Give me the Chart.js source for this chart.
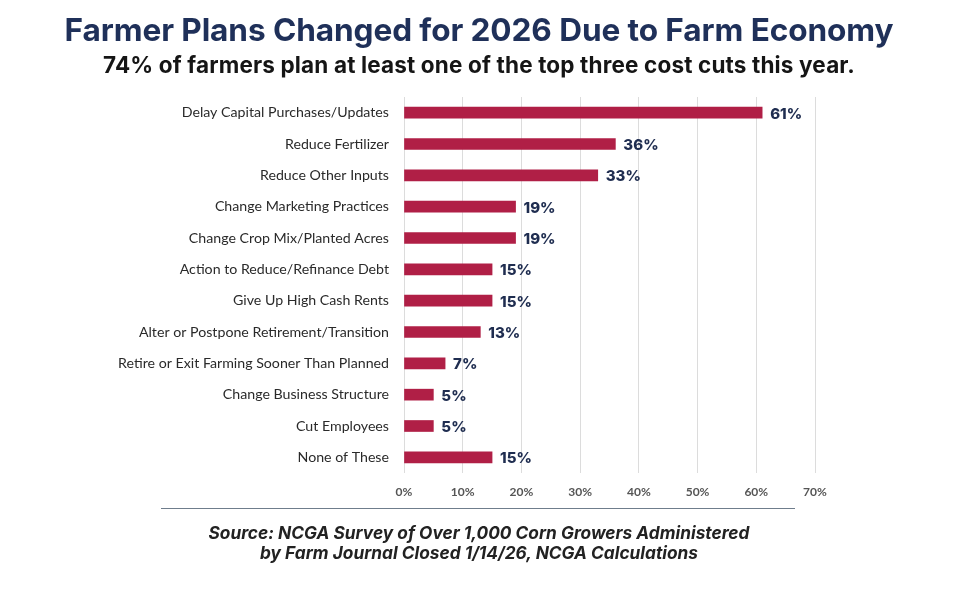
<!DOCTYPE html>
<html lang="en">
<head>
<meta charset="UTF-8">
<title>Farmer Plans Changed for 2026</title>
<script src="https://cdn.jsdelivr.net/npm/chart.js@4"></script>
<style>
  html, body { margin: 0; padding: 0; background: #fff; }
  #wrap { position: relative; width: 958px; height: 594px; overflow: hidden; }
  #chart { position: absolute; left: 0; top: 0; }
  .txt { position: absolute; left: 0; width: 958px; text-align: center; font-family: Inter, "Open Sans", sans-serif; }
  #title { top: 10px; font-size: 31.6px; font-weight: 700; color: #1f3059; letter-spacing: -0.1px; }
  #sub { top: 51px; font-size: 22.5px; font-weight: 700; color: #151515; letter-spacing: 0.15px; }
  #rule { position: absolute; left: 161px; top: 508px; width: 634px; height: 1px; background: #6f7d8c; }
  #src { top: 523px; font-size: 17.3px; font-weight: 700; font-style: italic; color: #222; line-height: 20px; letter-spacing: 0px; }
</style>
</head>
<body>
<div id="wrap">
  <canvas id="chart" width="958" height="594"></canvas>
  <div class="txt" id="title">Farmer Plans Changed for 2026 Due to Farm Economy</div>
  <div class="txt" id="sub">74% of farmers plan at least one of the top three cost cuts this year.</div>
  <div id="rule"></div>
  <div class="txt" id="src">Source: NCGA Survey of Over 1,000 Corn Growers Administered<br>by Farm Journal Closed 1/14/26, NCGA Calculations</div>
</div>
<script>
var categories = [
  "Delay Capital Purchases/Updates",
  "Reduce Fertilizer",
  "Reduce Other Inputs",
  "Change Marketing Practices",
  "Change Crop Mix/Planted Acres",
  "Action to Reduce/Refinance Debt",
  "Give Up High Cash Rents",
  "Alter or Postpone Retirement/Transition",
  "Retire or Exit Farming Sooner Than Planned",
  "Change Business Structure",
  "Cut Employees",
  "None of These"
];
var values = [61, 36, 33, 19, 19, 15, 15, 13, 7, 5, 5, 15];
var xTicks = [0, 10, 20, 30, 40, 50, 60, 70];

// writes the % value just past the end of each bar
var valueLabels = {
  id: 'valueLabels',
  afterDatasetsDraw: function (chart) {
    var ctx = chart.ctx;
    var meta = chart.getDatasetMeta(0);
    ctx.save();
    ctx.font = '800 15px Inter, "Open Sans", sans-serif';
    ctx.fillStyle = '#1f2d50';
    ctx.textBaseline = 'middle';
    ctx.textAlign = 'left';
    meta.data.forEach(function (bar, i) {
      ctx.fillText(values[i] + '%', bar.x + 8, bar.y + 1.5);
    });
    ctx.restore();
  }
};

new Chart(document.getElementById('chart'), {
  type: 'bar',
  data: {
    labels: categories,
    datasets: [{
      data: values,
      backgroundColor: '#b01f46',
      barThickness: 11,
      borderWidth: 0
    }]
  },
  options: {
    indexAxis: 'y',
    responsive: false,
    animation: false,
    layout: { padding: { left: 20, right: 143, top: 97, bottom: 91 } },
    plugins: {
      legend: { display: false },
      tooltip: { enabled: false }
    },
    scales: {
      x: {
        min: 0,
        max: 70,
        afterBuildTicks: function (scale) {
          scale.ticks = xTicks.map(function (v) { return { value: v }; });
        },
        afterFit: function (scale) { scale.height = 30; },
        grid: { color: '#dcdcdc', drawTicks: false, lineWidth: 1 },
        border: { display: false },
        ticks: {
          padding: 12,
          color: '#555',
          font: { family: 'Lato, sans-serif', size: 12, weight: 'bold' },
          callback: function (v) { return v + '%'; }
        }
      },
      y: {
        afterFit: function (scale) { scale.width = 384; },
        grid: { display: false, drawTicks: false },
        border: { display: false },
        ticks: {
          padding: 15,
          color: '#2a2a2a',
          font: { family: 'Lato, sans-serif', size: 14.2 }
        }
      }
    }
  },
  plugins: [valueLabels]
});
</script>
</body>
</html>
